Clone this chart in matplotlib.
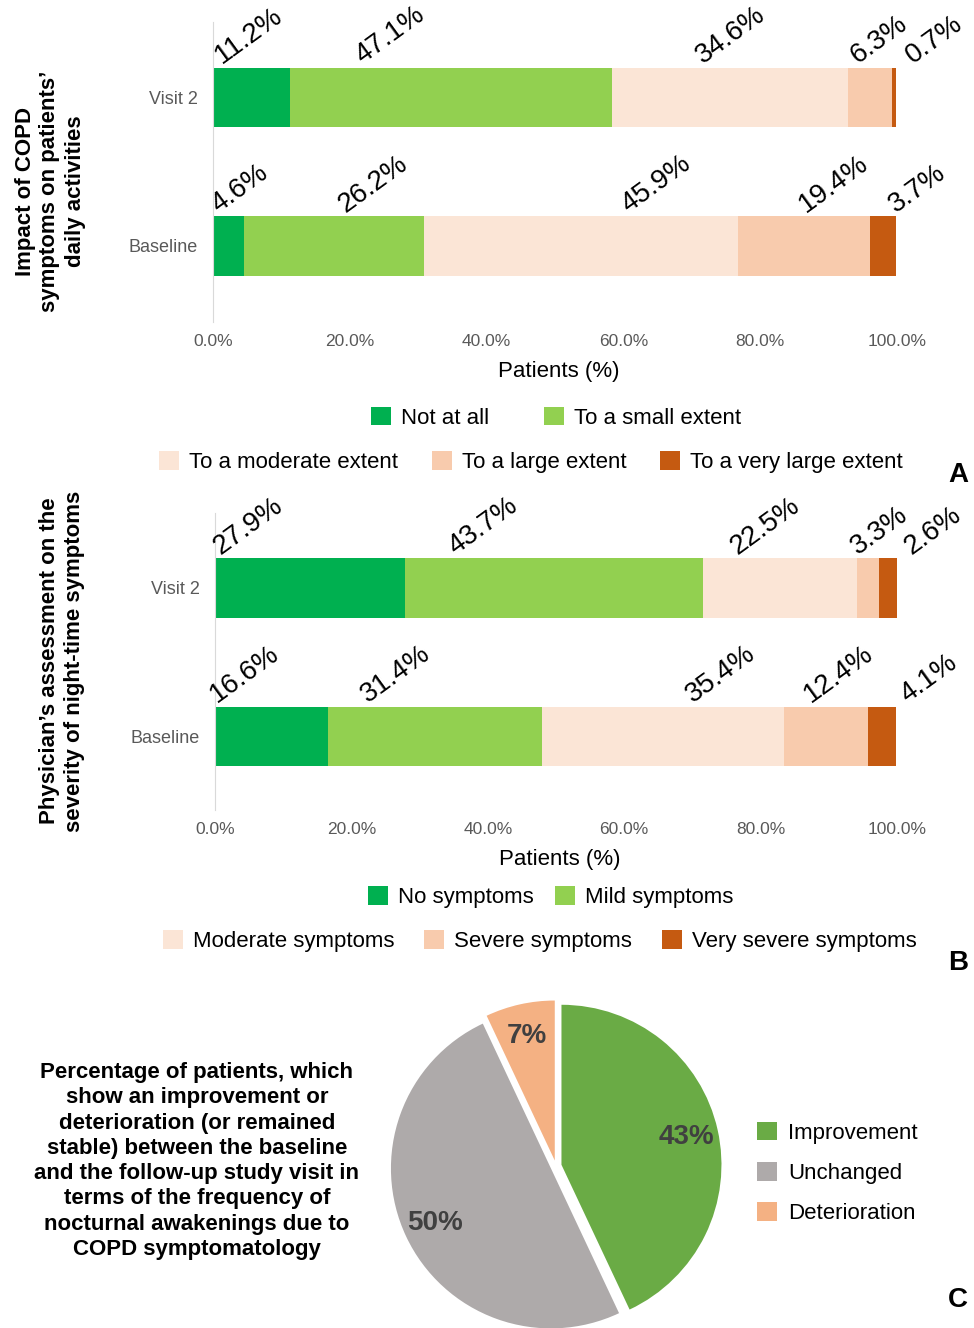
import matplotlib
matplotlib.use('Agg')
import matplotlib.pyplot as plt
from matplotlib.patches import Patch
from matplotlib.ticker import FuncFormatter

plt.rcParams['font.family'] = ['Liberation Sans', 'DejaVu Sans']

# data
groups = ['Baseline', 'Visit 2']

impact_labels = ['Not at all', 'To a small extent', 'To a moderate extent',
                 'To a large extent', 'To a very large extent']
impact_baseline = [4.6, 26.2, 45.9, 19.4, 3.7]
impact_visit2 = [11.2, 47.1, 34.6, 6.3, 0.7]

severity_labels = ['No symptoms', 'Mild symptoms', 'Moderate symptoms',
                   'Severe symptoms', 'Very severe symptoms']
severity_baseline = [16.6, 31.4, 35.4, 12.4, 4.1]
severity_visit2 = [27.9, 43.7, 22.5, 3.3, 2.6]

change_labels = ['Improvement', 'Unchanged', 'Deterioration']
change_values = [43, 50, 7]

# layout / style
bar_colors = ['#00B050', '#92D050', '#FBE5D6', '#F8CBAD', '#C55A11']
pie_colors = ['#6AAB45', '#AEAAAA', '#F4B183']
# where each rotated value label starts (in % on the x axis)
impact_label_x = [[0.8, 19.4, 60.8, 86.7, 99.8], [1.3, 21.8, 71.6, 94.2, 102.3]]
severity_label_x = [[0.3, 22.4, 70.0, 87.4, 101.5], [0.8, 35.3, 76.7, 94.2, 102.2]]

W, H = 974, 1328
fig = plt.figure(figsize=(W / 100, H / 100), dpi=100)


def fx(px):
    return px / W


def fy(py):
    return 1 - py / H


def stacked_panel(rect, ylim, series, label_x):
    ax = fig.add_axes(rect)
    for i, vals in enumerate(series):
        left = 0
        for j, v in enumerate(vals):
            ax.barh(i, v, left=left, height=0.4, color=bar_colors[j])
            ax.text(label_x[i][j], i + 0.225, f'{v:.1f}%', rotation=36,
                    rotation_mode='anchor', ha='left', va='baseline',
                    fontsize=20, color='black')
            left += v
    ax.set_xlim(0, 100)
    ax.set_ylim(*ylim)
    ax.set_xticks(range(0, 101, 20))
    ax.xaxis.set_major_formatter(FuncFormatter(lambda x, p: f'{x:.1f}%'))
    ax.set_yticks(range(len(groups)))
    ax.set_yticklabels(groups)
    ax.tick_params(axis='x', length=0, pad=9, labelsize=12.5, labelcolor='#595959')
    ax.tick_params(axis='y', length=0, pad=11, labelsize=13, labelcolor='#595959')
    for s in ['top', 'right', 'bottom']:
        ax.spines[s].set_visible(False)
    ax.spines['left'].set_color('#D9D9D9')
    return ax


def legend_row(labels, colors, cx, cy, colspace):
    handles = [Patch(facecolor=c, edgecolor='none') for c in colors]
    leg = fig.legend(handles, labels, loc='center', bbox_to_anchor=(fx(cx), fy(cy)),
                     ncol=len(labels), frameon=False, fontsize=16,
                     handlelength=0.9, handleheight=0.9, handletextpad=0.45,
                     columnspacing=colspace, borderpad=0, borderaxespad=0)
    return leg


# Panel A
stacked_panel([fx(213), fy(322), fx(897) - fx(213), (322 - 22) / H],
              (-0.512, 1.508), [impact_baseline, impact_visit2], impact_label_x)
fig.text(fx(559), fy(372), 'Patients (%)', fontsize=16, ha='center', va='center')
legend_row(impact_labels[:2], bar_colors[:2], 556, 418, 2.45)
legend_row(impact_labels[2:], bar_colors[2:], 531, 462, 1.5)
fig.text(fx(50), fy(191), 'Impact of COPD\nsymptoms on patients\u2019\ndaily activities',
         rotation=90, ha='center', va='center', fontsize=16, fontweight='bold',
         linespacing=1.25, multialignment='center')
fig.text(fx(958), fy(475), 'A', fontsize=20, fontweight='bold', ha='center', va='center')

# Panel B
stacked_panel([fx(215), fy(810), fx(897) - fx(215), (810 - 513) / H],
              (-0.495, 1.505), [severity_baseline, severity_visit2], severity_label_x)
fig.text(fx(560), fy(859), 'Patients (%)', fontsize=16, ha='center', va='center')
legend_row(severity_labels[:2], bar_colors[:2], 551, 897, 0.95)
legend_row(severity_labels[2:], bar_colors[2:], 540, 941, 1.35)
fig.text(fx(62), fy(661), 'Physician\u2019s assessment on the\nseverity of night-time symptoms',
         rotation=90, ha='center', va='center', fontsize=16, fontweight='bold',
         linespacing=1.25, multialignment='center')
fig.text(fx(958), fy(963), 'B', fontsize=20, fontweight='bold', ha='center', va='center')

# Panel C
fig.text(fx(197), fy(1161),
         'Percentage of patients, which\nshow an improvement or\n'
         'deterioration (or remained\nstable) between the baseline\n'
         'and the follow-up study visit in\nterms of the frequency of\n'
         'nocturnal awakenings due to\nCOPD symptomatology',
         ha='center', va='center', fontsize=16, fontweight='bold', linespacing=1.27)

R = 160
cx, cy = 556, 1166
ax_pie = fig.add_axes([fx(cx - 1.2 * R), fy(cy + 1.2 * R), 2.4 * R / W, 2.4 * R / H])
ax_pie.pie(change_values, colors=pie_colors, startangle=90, counterclock=False,
           explode=[0.035] * 3, autopct='%.0f%%', pctdistance=0.8,
           textprops=dict(fontsize=20, fontweight='bold', color='#404040'))
ax_pie.set_xlim(-1.2, 1.2)
ax_pie.set_ylim(-1.2, 1.2)
ax_pie.set_aspect('equal', adjustable='box')

pie_handles = [Patch(facecolor=c, edgecolor='none') for c in pie_colors]
fig.legend(pie_handles, change_labels, loc='upper left',
           bbox_to_anchor=(fx(757), fy(1122)), frameon=False, fontsize=16,
           handlelength=0.9, handleheight=0.9, handletextpad=0.5,
           labelspacing=0.82, borderpad=0, borderaxespad=0)
fig.text(fx(958), fy(1300), 'C', fontsize=20, fontweight='bold', ha='center', va='center')

fig.savefig('out.png', dpi=100, facecolor='white')
